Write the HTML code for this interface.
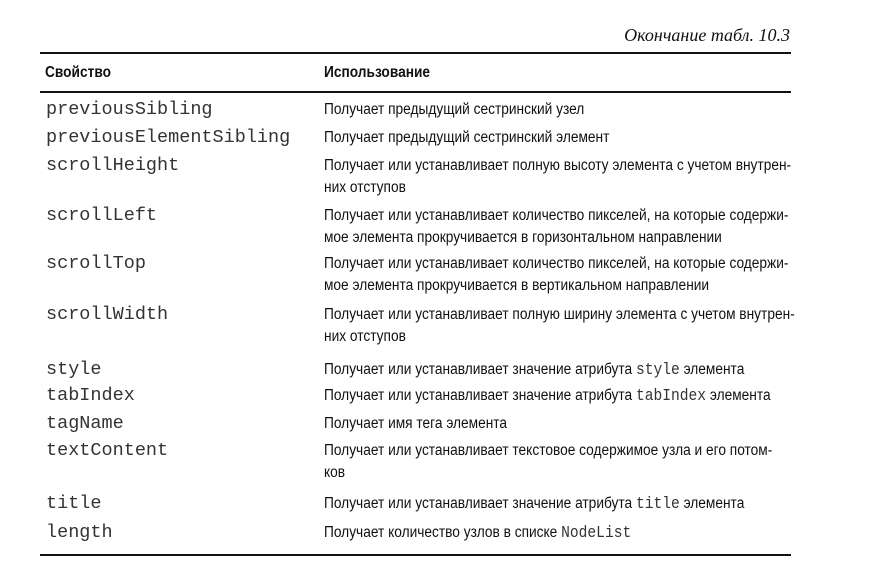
<!DOCTYPE html>
<html><head><meta charset="utf-8"><style>
html,body{margin:0;padding:0;background:#fff;}
body{width:875px;height:575px;position:relative;overflow:hidden;color:#111;}
.r{position:absolute;left:40px;width:751px;background:#111;}
.m{position:absolute;left:46px;font-family:"Liberation Mono",monospace;font-size:18.5px;line-height:22px;white-space:nowrap;color:#333;}
.d{position:absolute;left:324px;font-family:"Liberation Sans",sans-serif;font-size:15.5px;line-height:22px;white-space:nowrap;transform:scaleX(0.885);transform-origin:0 0;}
.d code{font-family:"Liberation Mono",monospace;font-size:16.5px;color:#333;}
.h{position:absolute;font-family:"Liberation Sans",sans-serif;font-weight:bold;font-size:15.5px;line-height:22px;transform:scaleX(0.885);transform-origin:0 0;}
.cap{position:absolute;right:85px;top:23px;font-family:"Liberation Serif",serif;font-style:italic;font-size:18px;line-height:24px;}
</style></head><body>
<div class="cap">Окончание табл. 10.3</div>
<div class="r" style="top:52px;height:2px"></div>
<div class="h" style="left:45px;top:62px">Свойство</div>
<div class="h" style="left:324px;top:62px">Использование</div>
<div class="r" style="top:91px;height:1.5px"></div>

<div class="m" style="top:99px">previousSibling</div>
<div class="d" style="top:99px">Получает предыдущий сестринский узел</div>

<div class="m" style="top:127px">previousElementSibling</div>
<div class="d" style="top:127px">Получает предыдущий сестринский элемент</div>

<div class="m" style="top:155px">scrollHeight</div>
<div class="d" style="top:155px">Получает или устанавливает полную высоту элемента с учетом внутрен-<br>них отступов</div>

<div class="m" style="top:205px">scrollLeft</div>
<div class="d" style="top:205px">Получает или устанавливает количество пикселей, на которые содержи-<br>мое элемента прокручивается в горизонтальном направлении</div>

<div class="m" style="top:253px">scrollTop</div>
<div class="d" style="top:253px">Получает или устанавливает количество пикселей, на которые содержи-<br>мое элемента прокручивается в вертикальном направлении</div>

<div class="m" style="top:304px">scrollWidth</div>
<div class="d" style="top:304px">Получает или устанавливает полную ширину элемента с учетом внутрен-<br>них отступов</div>

<div class="m" style="top:359px">style</div>
<div class="d" style="top:359px">Получает или устанавливает значение атрибута <code>style</code> элемента</div>

<div class="m" style="top:385px">tabIndex</div>
<div class="d" style="top:385px">Получает или устанавливает значение атрибута <code>tabIndex</code> элемента</div>

<div class="m" style="top:413px">tagName</div>
<div class="d" style="top:413px">Получает имя тега элемента</div>

<div class="m" style="top:440px">textContent</div>
<div class="d" style="top:440px">Получает или устанавливает текстовое содержимое узла и его потом-<br>ков</div>

<div class="m" style="top:493px">title</div>
<div class="d" style="top:493px">Получает или устанавливает значение атрибута <code>title</code> элемента</div>

<div class="m" style="top:522px">length</div>
<div class="d" style="top:522px">Получает количество узлов в списке <code>NodeList</code></div>

<div class="r" style="top:554px;height:2px"></div>
</body></html>
